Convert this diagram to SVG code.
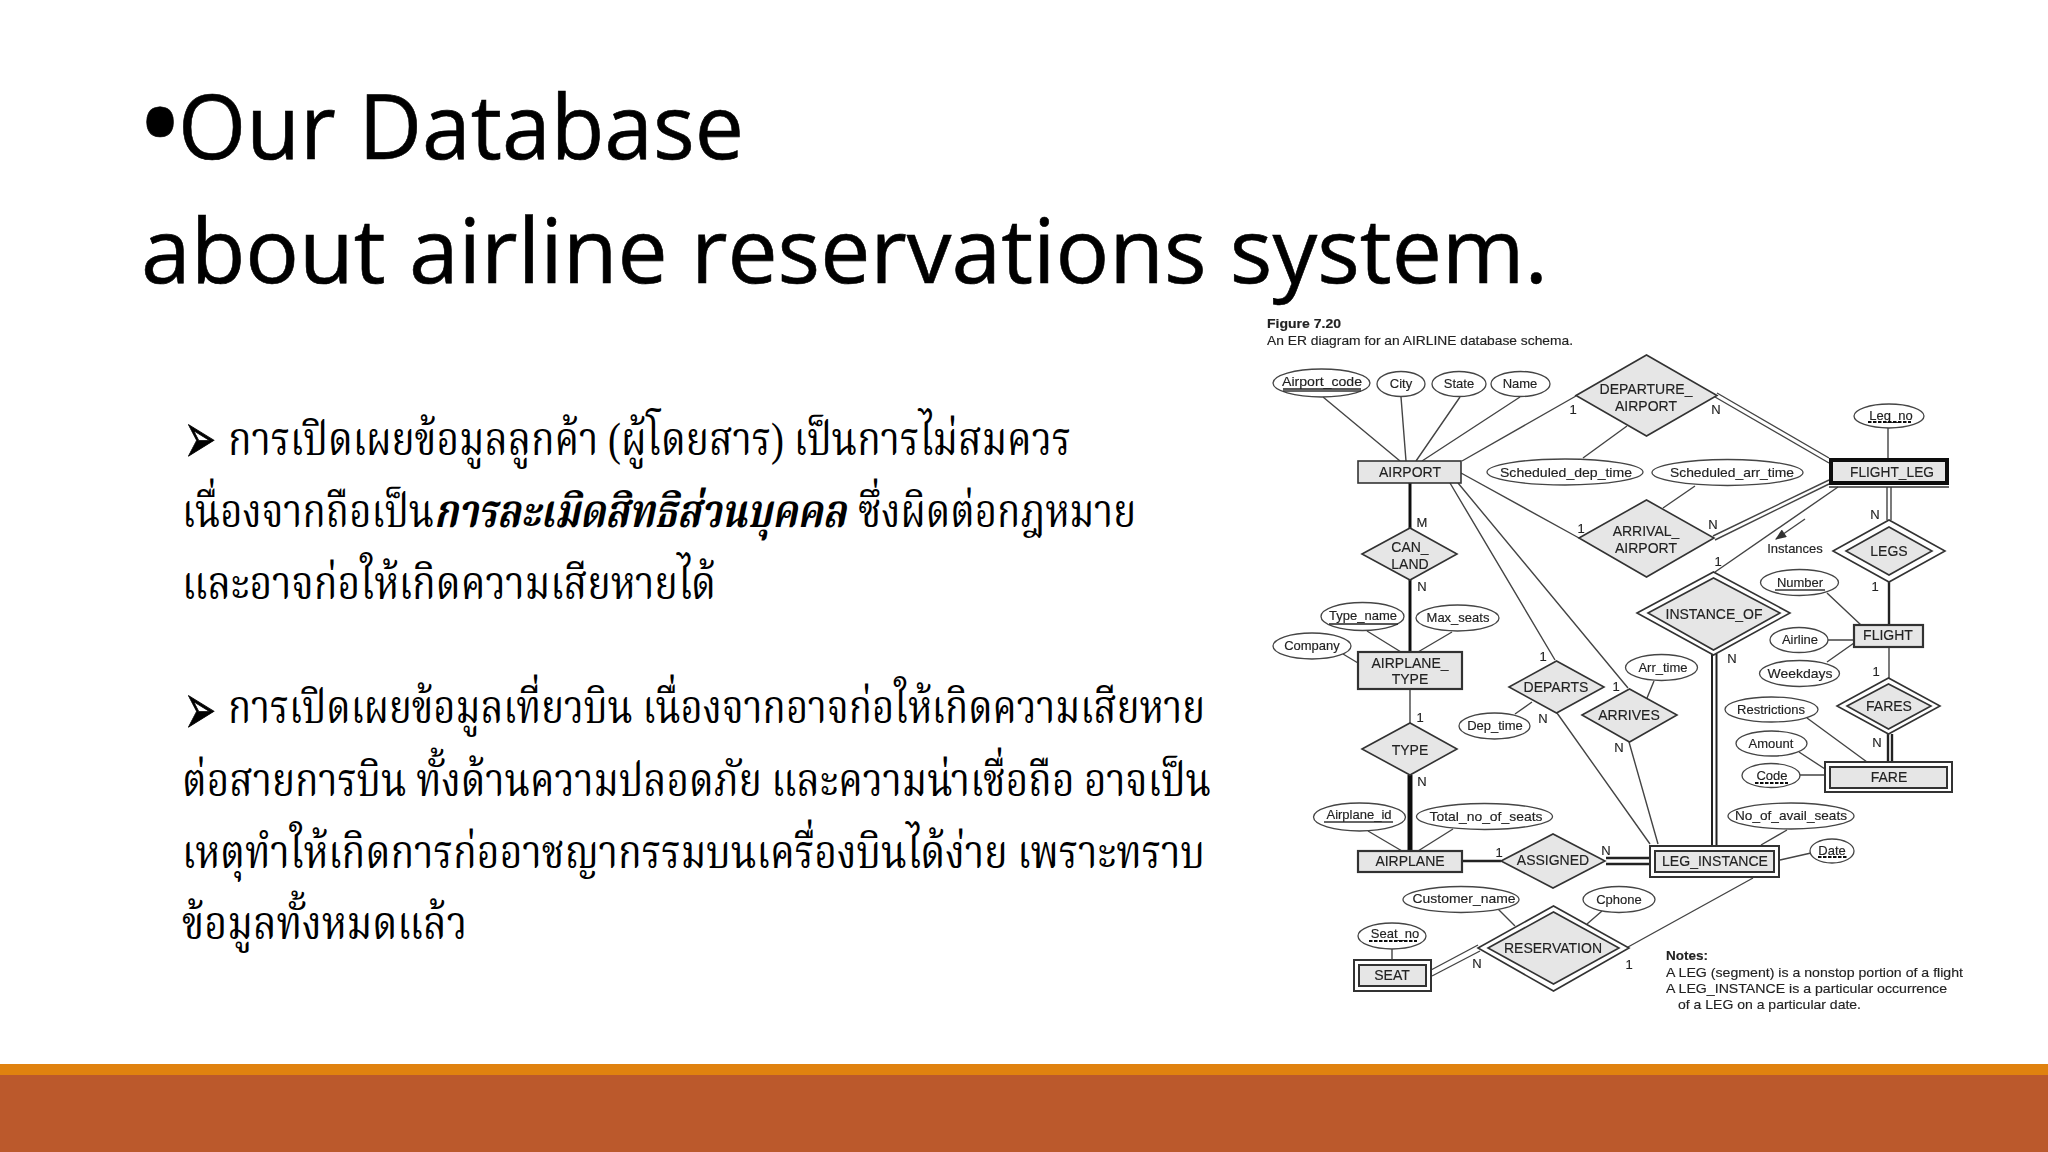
<svg xmlns="http://www.w3.org/2000/svg" width="2048" height="1152" viewBox="0 0 2048 1152">
<defs>
<style>
.t{font-family:"Open Sans","Noto Sans",sans-serif;font-size:90px;fill:#000;stroke:#000;stroke-width:.6}
.th{font-family:"Liberation Serif","Noto Serif Thai","Noto Sans Thai","DejaVu Sans",serif;font-size:46px;fill:#000}
.ar{font-family:"DejaVu Sans",sans-serif;font-size:38px;fill:#000;stroke:#000;stroke-width:.5}
.b{fill:#e6e6e6;stroke:#333;stroke-width:1.6}
.bw{fill:#fff;stroke:#333;stroke-width:1.6}
.n{fill:none;stroke:#333;stroke-width:1.4}
.e{fill:#fff;stroke:#444;stroke-width:1.3}
.l{fill:none;stroke:#444;stroke-width:1.4}
.h{fill:none;stroke:#222;stroke-width:2.4}
.x{fill:none;stroke:#111;stroke-width:4}
.u{fill:none;stroke:#222;stroke-width:2}
.d{fill:none;stroke:#111;stroke-width:1.8;stroke-dasharray:3.5 1.5}
text.a,text.m,text.c,text.s{font-family:"Liberation Sans",Arial,sans-serif;fill:#222;stroke:#222;stroke-width:.15;text-anchor:middle}
text.m{font-size:14px}
text.a{font-size:13px}
text.c{font-size:13px}
text.s{font-size:13.5px;text-anchor:start}
text.f{font-family:"Liberation Sans",Arial,sans-serif;fill:#222;stroke:#222;stroke-width:.15;font-size:13px}
</style>
<marker id="arr" viewBox="0 0 10 8" refX="9" refY="4" markerWidth="14" markerHeight="9" markerUnits="userSpaceOnUse" orient="auto"><path d="M0 0L10 4L0 8Z" fill="#333"/></marker>
<filter id="soft" x="0" y="0" width="1" height="1"><feGaussianBlur stdDeviation="0.45"/></filter>
</defs>
<rect width="2048" height="1152" fill="#fff"/>
<rect y="1064" width="2048" height="11" fill="#e0820f"/>
<rect y="1075" width="2048" height="77" fill="#bb592c"/>
<text class="t" x="136" y="169" style="font-size:128px">•</text>
<text class="t" x="178" y="159" textLength="566" lengthAdjust="spacingAndGlyphs">Our Database</text>
<text class="t" x="141" y="283" textLength="1407" lengthAdjust="spacingAndGlyphs">about airline reservations system.</text>
<g id="thai-text">
<text class="ar" transform="translate(184 463) scale(1 1.9)">➢</text>
<text class="th" x="228" y="455" textLength="843" lengthAdjust="spacingAndGlyphs">การเปิดเผยข้อมูลลูกค้า (ผู้โดยสาร) เป็นการไม่สมควร</text>
<text class="th" x="182" y="527" textLength="252" lengthAdjust="spacingAndGlyphs">เนื่องจากถือเป็น</text>
<text class="th" x="434" y="527" textLength="412" lengthAdjust="spacingAndGlyphs" font-weight="bold" font-style="italic">การละเมิดสิทธิส่วนบุคคล</text>
<text class="th" x="858" y="527" textLength="278" lengthAdjust="spacingAndGlyphs">ซึ่งผิดต่อกฎหมาย</text>
<text class="th" x="182" y="599" textLength="534" lengthAdjust="spacingAndGlyphs">และอาจก่อให้เกิดความเสียหายได้</text>
<text class="ar" transform="translate(184 734) scale(1 1.9)">➢</text>
<text class="th" x="228" y="723" textLength="977" lengthAdjust="spacingAndGlyphs">การเปิดเผยข้อมูลเที่ยวบิน เนื่องจากอาจก่อให้เกิดความเสียหาย</text>
<text class="th" x="182" y="796" textLength="1029" lengthAdjust="spacingAndGlyphs">ต่อสายการบิน ทั้งด้านความปลอดภัย และความน่าเชื่อถือ อาจเป็น</text>
<text class="th" x="182" y="868" textLength="1023" lengthAdjust="spacingAndGlyphs">เหตุทำให้เกิดการก่ออาชญากรรมบนเครื่องบินได้ง่าย เพราะทราบ</text>
<text class="th" x="182" y="939" textLength="285" lengthAdjust="spacingAndGlyphs">ข้อมูลทั้งหมดแล้ว</text>
</g>
<g id="er-diagram" filter="url(#soft)">
<g id="figure-caption">
<text class="f" x="1267" y="328" font-weight="bold" textLength="74" lengthAdjust="spacingAndGlyphs">Figure 7.20</text>
<text class="f" x="1267" y="345" textLength="306" lengthAdjust="spacingAndGlyphs">An ER diagram for an AIRLINE database schema.</text>
</g>
<g id="connectors">
<path class="l" d="M1323 397L1400 461M1401 397L1406 461M1460 397L1416 461M1520 397L1422 461M1462 461L1576 396M1627 426L1583 458M1695 486L1663 508M1461 473L1579 538M1450 483L1555 660M1458 483L1628 688M1367 631L1401 652M1452 632L1418 652M1343 654L1358 663M1410 689V723M1368 831L1402 851M1453 829L1418 851M1557 713L1650 844M1629 742L1658 844M1515 714L1532 702M1654 681L1647 698M1498 909L1515 926M1602 911L1587 924M1392 949V960M1715 572L1838 487M1888 428V458M1827 593L1861 625M1828 640H1854M1827 662L1854 643M1889 647V678M1807 718L1867 762M1799 752L1825 769M1800 775H1825M1787 830L1761 845M1811 853L1780 860M1753 878L1628 947"/>
<path class="l" d="M1431 970L1478 945M1432 976L1480 951M1717 393L1829 458M1715 397L1829 463M1713 536L1829 480M1715 540L1829 484M1887 487V520M1891 487V520"/>
<path class="u" d="M1712 654V846M1716.500 654V846"/>
<path class="h" d="M1889 582V625M1462 861H1501M1606 858H1650M1606 864H1650M1888 734V762M1892 734V762"/>
<path class="x" style="stroke-width:3" d="M1410 483V528M1410 580V652"/>
<path class="x" style="stroke-width:5" d="M1410 775V851"/>
<path class="l" d="M1805 519L1776 539" marker-end="url(#arr)"/>
</g>
<g id="AIRPORT"><rect class="b" x="1358" y="461" width="103" height="22"/><text class="m" x="1410" y="477">AIRPORT</text></g>
<g id="FLIGHT_LEG"><rect x="1831" y="460" width="116" height="23" fill="#e6e6e6" stroke="#111" stroke-width="4"/><path class="n" d="M1829 487H1949"/><text class="m" x="1892" y="477" textLength="84" lengthAdjust="spacingAndGlyphs">FLIGHT_LEG</text></g>
<g id="AIRPLANE_TYPE"><rect class="b" style="stroke-width:2.2" x="1358" y="652" width="104" height="37"/><text class="m" x="1410" y="668">AIRPLANE_</text><text class="m" x="1410" y="684">TYPE</text></g>
<g id="AIRPLANE"><rect class="b" style="stroke-width:2.2" x="1358" y="851" width="104" height="21"/><text class="m" x="1410" y="866">AIRPLANE</text></g>
<g id="LEG_INSTANCE"><rect class="bw" style="stroke-width:2" x="1650" y="846" width="129" height="31"/><rect class="b" style="stroke-width:2" x="1655" y="851" width="119" height="21"/><text class="m" x="1715" y="866" textLength="106" lengthAdjust="spacingAndGlyphs">LEG_INSTANCE</text></g>
<g id="SEAT"><rect class="bw" style="stroke-width:2" x="1354" y="960" width="77" height="31"/><rect class="b" style="stroke-width:2" x="1359" y="965" width="67" height="21"/><text class="m" x="1392" y="980">SEAT</text></g>
<g id="FLIGHT"><rect class="b" style="stroke-width:2.2" x="1854" y="625" width="69" height="22"/><text class="m" x="1888" y="640">FLIGHT</text></g>
<g id="FARE"><rect class="bw" style="stroke-width:2" x="1825" y="762" width="127" height="30"/><rect class="b" style="stroke-width:2" x="1830" y="767" width="117" height="21"/><text class="m" x="1889" y="782">FARE</text></g>
<g id="DEPARTURE_AIRPORT"><polygon class="b" points="1576,395.500 1646.500,355 1717,395.500 1646.500,436"/><text class="m" x="1646" y="394">DEPARTURE_</text><text class="m" x="1646" y="411">AIRPORT</text></g>
<g id="ARRIVAL_AIRPORT"><polygon class="b" points="1579,538 1646.500,500 1714,538 1646.500,577"/><text class="m" x="1646" y="536">ARRIVAL_</text><text class="m" x="1646" y="553">AIRPORT</text></g>
<g id="CAN_LAND"><polygon class="b" points="1362,554 1410,528 1457,554 1410,580"/><text class="m" x="1410" y="552">CAN_</text><text class="m" x="1410" y="569">LAND</text></g>
<g id="TYPE"><polygon class="b" points="1362,749 1410,723 1457,749 1410,775"/><text class="m" x="1410" y="755">TYPE</text></g>
<g id="DEPARTS"><polygon class="b" points="1509,687 1556.500,661 1604,687 1556.500,713"/><text class="m" x="1556" y="692">DEPARTS</text></g>
<g id="ARRIVES"><polygon class="b" points="1582,715 1629.500,689 1677,715 1629.500,742"/><text class="m" x="1629" y="720">ARRIVES</text></g>
<g id="ASSIGNED"><polygon class="b" points="1501,861 1553,834 1605,861 1553,888"/><text class="m" x="1553" y="865">ASSIGNED</text></g>
<g id="RESERVATION"><polygon class="bw" points="1478,948 1553.500,906 1629,948 1553.500,991"/><polygon class="b" points="1488,948 1553.500,912 1619,948 1553.500,984"/><text class="m" x="1553" y="953">RESERVATION</text></g>
<g id="INSTANCE_OF"><polygon class="bw" points="1637,613 1713.500,572 1790,613 1713.500,655"/><polygon class="b" points="1648,613 1713.500,578 1780,613 1713.500,650"/><text class="m" x="1714" y="619">INSTANCE_OF</text></g>
<g id="LEGS"><polygon class="bw" points="1833,551 1889,520 1945,551 1889,582"/><polygon class="b" points="1846,551 1889,527 1932,551 1889,575"/><text class="m" x="1889" y="556">LEGS</text></g>
<g id="FARES"><polygon class="bw" points="1837,706 1888.500,678 1940,706 1888.500,734"/><polygon class="b" points="1847,706 1888.500,684 1931,706 1888.500,729"/><text class="m" x="1889" y="711">FARES</text></g>
<g id="Airport_code"><ellipse class="e" cx="1321.500" cy="383" rx="48.500" ry="14"/><text class="a" x="1322" y="386" textLength="80" lengthAdjust="spacingAndGlyphs">Airport_code</text><path class="u" style="stroke-width:1.5" d="M1283 389H1361"/><path class="n" d="M1283 391H1361"/></g>
<g id="City"><ellipse class="e" cx="1401" cy="384" rx="24" ry="12.500"/><text class="a" x="1401" y="388">City</text></g>
<g id="State"><ellipse class="e" cx="1459" cy="384" rx="27" ry="12.500"/><text class="a" x="1459" y="388">State</text></g>
<g id="Name"><ellipse class="e" cx="1520.500" cy="384" rx="29.500" ry="12.500"/><text class="a" x="1520" y="388">Name</text></g>
<g id="Scheduled_dep_time"><ellipse class="e" cx="1565" cy="472" rx="78" ry="13"/><text class="a" x="1566" y="477" textLength="132" lengthAdjust="spacingAndGlyphs">Scheduled_dep_time</text></g>
<g id="Scheduled_arr_time"><ellipse class="e" cx="1727.500" cy="472.500" rx="75.500" ry="13"/><text class="a" x="1732" y="477" textLength="124" lengthAdjust="spacingAndGlyphs">Scheduled_arr_time</text></g>
<g id="Leg_no"><ellipse class="e" cx="1889" cy="416" rx="35" ry="12"/><text class="a" x="1891" y="420">Leg_no</text><path class="d" d="M1868 422H1911"/></g>
<g id="Number"><ellipse class="e" cx="1799.500" cy="582.500" rx="39" ry="13"/><text class="a" x="1800" y="587">Number</text><path class="n" d="M1775 590H1825"/></g>
<g id="Airline"><ellipse class="e" cx="1799" cy="640" rx="29" ry="12.500"/><text class="a" x="1800" y="644">Airline</text></g>
<g id="Weekdays"><ellipse class="e" cx="1799.500" cy="673.500" rx="40" ry="13"/><text class="a" x="1800" y="678" textLength="65" lengthAdjust="spacingAndGlyphs">Weekdays</text></g>
<g id="Restrictions"><ellipse class="e" cx="1771.500" cy="709.500" rx="46.500" ry="12.500"/><text class="a" x="1771" y="714">Restrictions</text></g>
<g id="Amount"><ellipse class="e" cx="1771.500" cy="743.500" rx="35.500" ry="12.500"/><text class="a" x="1771" y="748">Amount</text></g>
<g id="Code"><ellipse class="e" cx="1771" cy="775.500" rx="29" ry="12"/><text class="a" x="1772" y="780">Code</text><path class="d" d="M1755 783H1788"/></g>
<g id="Type_name"><ellipse class="e" cx="1362.500" cy="616.500" rx="41.500" ry="14"/><text class="a" x="1363" y="620">Type_name</text><path class="u" style="stroke-width:1.5" d="M1329 624H1398"/></g>
<g id="Max_seats"><ellipse class="e" cx="1457.500" cy="618" rx="41.500" ry="13"/><text class="a" x="1458" y="622">Max_seats</text></g>
<g id="Company"><ellipse class="e" cx="1312" cy="646" rx="39" ry="13"/><text class="a" x="1312" y="650">Company</text></g>
<g id="Dep_time"><ellipse class="e" cx="1494.500" cy="726" rx="35.500" ry="13"/><text class="a" x="1495" y="730">Dep_time</text></g>
<g id="Arr_time"><ellipse class="e" cx="1661.500" cy="667.500" rx="36" ry="13"/><text class="a" x="1663" y="672">Arr_time</text></g>
<g id="Airplane_id"><ellipse class="e" cx="1359.500" cy="817" rx="46" ry="14"/><text class="a" x="1359" y="819">Airplane_id</text><path class="n" d="M1324 822H1393"/></g>
<g id="Total_no_of_seats"><ellipse class="e" cx="1484.500" cy="816.500" rx="68" ry="13"/><text class="a" x="1486" y="821" textLength="113" lengthAdjust="spacingAndGlyphs">Total_no_of_seats</text></g>
<g id="No_of_avail_seats"><ellipse class="e" cx="1791" cy="816" rx="63" ry="13"/><text class="a" x="1791" y="820" textLength="112" lengthAdjust="spacingAndGlyphs">No_of_avail_seats</text></g>
<g id="Date"><ellipse class="e" cx="1832" cy="851" rx="22" ry="12"/><text class="a" x="1832" y="855">Date</text><path class="d" d="M1818 857H1847"/></g>
<g id="Customer_name"><ellipse class="e" cx="1461" cy="899.500" rx="58" ry="13"/><text class="a" x="1464" y="903" textLength="103" lengthAdjust="spacingAndGlyphs">Customer_name</text></g>
<g id="Cphone"><ellipse class="e" cx="1619" cy="899.500" rx="36" ry="13"/><text class="a" x="1619" y="904">Cphone</text></g>
<g id="Seat_no"><ellipse class="e" cx="1392" cy="936" rx="34" ry="13"/><text class="a" x="1395" y="938">Seat_no</text><path class="d" d="M1369 941H1417"/></g>
<g id="labels">
<text class="c" x="1573" y="414">1</text><text class="c" x="1716" y="414">N</text>
<text class="c" x="1581" y="533">1</text><text class="c" x="1713" y="529">N</text>
<text class="c" x="1422" y="527">M</text><text class="c" x="1422" y="591">N</text>
<text class="c" x="1420" y="722">1</text><text class="c" x="1422" y="786">N</text>
<text class="c" x="1543" y="661">1</text><text class="c" x="1543" y="723">N</text>
<text class="c" x="1616" y="691">1</text><text class="c" x="1619" y="752">N</text>
<text class="c" x="1499" y="857">1</text><text class="c" x="1606" y="855">N</text>
<text class="c" x="1718" y="566">1</text><text class="c" x="1732" y="663">N</text>
<text class="c" x="1875" y="519">N</text><text class="c" x="1875" y="591">1</text>
<text class="c" x="1876" y="676">1</text><text class="c" x="1877" y="747">N</text>
<text class="c" x="1629" y="969">1</text><text class="c" x="1477" y="968">N</text>
<text class="a" x="1795" y="553">Instances</text>
</g>
<g id="notes">
<text class="s" x="1666" y="960" font-weight="bold">Notes:</text>
<text class="s" x="1666" y="977" textLength="297" lengthAdjust="spacingAndGlyphs">A LEG (segment) is a nonstop portion of a flight</text>
<text class="s" x="1666" y="993" textLength="281" lengthAdjust="spacingAndGlyphs">A LEG_INSTANCE is a particular occurrence</text>
<text class="s" x="1678" y="1009" textLength="183" lengthAdjust="spacingAndGlyphs">of a LEG on a particular date.</text>
</g>
</g>
</svg>
